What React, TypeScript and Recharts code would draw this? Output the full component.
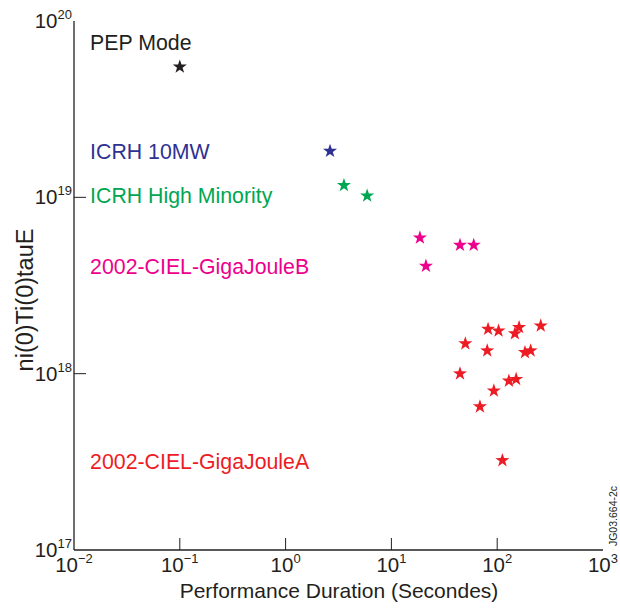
import React from 'react';
import { ScatterChart, Scatter, XAxis, YAxis, ZAxis } from 'recharts';

// Performance duration (s) vs ni(0)Ti(0)tauE
const PEP_X = [0.1];
const PEP_Y = [5.5e19];

const ICRH10_X = [2.63];
const ICRH10_Y = [1.83e19];

const ICRH_HM_X = [3.56, 5.9];
const ICRH_HM_Y = [1.17e19, 1.02e19];

const GJB_X = [18.6, 21.2, 44.5, 60];
const GJB_Y = [5.9e18, 4.08e18, 5.36e18, 5.36e18];

const GJA_X = [82, 103, 161, 147, 258, 50, 80.5, 183, 207, 44.5, 129, 151, 93, 68.7, 112];
const GJA_Y = [
  1.79e18, 1.75e18, 1.83e18, 1.69e18, 1.87e18, 1.48e18, 1.35e18, 1.32e18, 1.35e18,
  1.0e18, 9.1e17, 9.3e17, 8.0e17, 6.5e17, 3.22e17,
];

const X_TICKS = [0.01, 0.1, 1, 10, 100, 1000];
const X_EXP = ['−2', '−1', '0', '1', '2', '3'];
const Y_TICKS = [1e17, 1e18, 1e19, 1e20];
const Y_EXP = ['17', '18', '19', '20'];

// in-plot captions, anchored in data coordinates
const NOTE_TEXT = ['PEP Mode', 'ICRH 10MW', 'ICRH High Minority', '2002-CIEL-GigaJouleB', '2002-CIEL-GigaJouleA'];
const NOTE_X = [0.0142, 0.0142, 0.0142, 0.0142, 0.0142];
const NOTE_Y = [7.5e19, 1.83e19, 1.03e19, 4.07e18, 3.16e17];

const COLORS = ['#231f20', '#2e3192', '#00a651', '#ec008c', '#ed1c24'];

const FONT = '"Liberation Sans", Arial, Helvetica, sans-serif';
const INK = '#231f20';
const TICK_MARGIN_X = 7;
const TICK_MARGIN_Y = 2;

const toPoints = (xs: number[], ys: number[]) => xs.map((x, i) => ({ x, y: ys[i] }));

const SERIES = [
  { name: 'PEP Mode', data: toPoints(PEP_X, PEP_Y), color: COLORS[0] },
  { name: 'ICRH 10MW', data: toPoints(ICRH10_X, ICRH10_Y), color: COLORS[1] },
  { name: 'ICRH High Minority', data: toPoints(ICRH_HM_X, ICRH_HM_Y), color: COLORS[2] },
  { name: '2002-CIEL-GigaJouleB', data: toPoints(GJB_X, GJB_Y), color: COLORS[3] },
  { name: '2002-CIEL-GigaJouleA', data: toPoints(GJA_X, GJA_Y), color: COLORS[4] },
];

const NOTES = NOTE_TEXT.map((text, i) => ({ x: NOTE_X[i], y: NOTE_Y[i], text, color: COLORS[i] }));

function starPath(cx: number, cy: number, outer: number, inner: number): string {
  let d = '';
  for (let i = 0; i < 10; i++) {
    const r = i % 2 === 0 ? outer : inner;
    const a = -Math.PI / 2 + (i * Math.PI) / 5;
    d += `${i === 0 ? 'M' : 'L'}${(cx + r * Math.cos(a)).toFixed(2)},${(cy + r * Math.sin(a)).toFixed(2)}`;
  }
  return d + 'Z';
}

const makeStar = (color: string) => (props: any) => (
  <path d={starPath(props.cx, props.cy, 7.4, 2.9)} fill={color} />
);

const NoteShape = (props: any) => (
  <text x={props.cx} y={props.cy} dy="0.35em" fill={props.payload.color} fontSize={21.3} fontFamily={FONT}>
    {props.payload.text}
  </text>
);

const XTick = (props: any) => {
  const { x, y, payload, index } = props;
  const axisY = y - TICK_MARGIN_X;
  const inner = index > 0 && index < X_TICKS.length - 1;
  return (
    <g>
      {inner && <line x1={x} x2={x} y1={axisY} y2={axisY - 12} stroke={INK} strokeWidth={1} />}
      <text x={x} y={y} dy={15} textAnchor="middle" fill={INK} fontSize={20.5} fontFamily={FONT}>
        10
        <tspan fontSize={13} dy={-9}>{X_EXP[X_TICKS.indexOf(payload.value)]}</tspan>
      </text>
    </g>
  );
};

const YTick = (props: any) => {
  const { x, y, payload, index } = props;
  const axisX = x + TICK_MARGIN_Y;
  const inner = index > 0 && index < Y_TICKS.length - 1;
  return (
    <g>
      {inner && <line x1={axisX} x2={axisX + 12} y1={y} y2={y} stroke={INK} strokeWidth={1} />}
      <text x={x} y={y} dy={7} textAnchor="end" fill={INK} fontSize={20.5} fontFamily={FONT}>
        10
        <tspan fontSize={13} dy={-9}>{Y_EXP[Y_TICKS.indexOf(payload.value)]}</tspan>
      </text>
    </g>
  );
};

export default function App() {
  return (
    <div style={{ position: 'absolute', left: 0, top: 0, width: 620, height: 608, background: '#fff', fontFamily: FONT, color: INK }}>
      <ScatterChart width={620} height={608} margin={{ top: 21, right: 17, bottom: 18, left: 14 }}>
        <XAxis
          xAxisId="b"
          type="number"
          dataKey="x"
          scale="log"
          domain={[0.01, 1000]}
          ticks={X_TICKS}
          allowDataOverflow
          height={40}
          tickSize={0}
          tickMargin={TICK_MARGIN_X}
          tick={<XTick />}
          axisLine={{ stroke: INK, strokeWidth: 1.3 }}
          interval={0}
        />
        <XAxis
          xAxisId="t"
          orientation="top"
          type="number"
          dataKey="x"
          scale="log"
          domain={[0.01, 1000]}
          allowDataOverflow
          height={0}
          tick={false}
          tickLine={false}
          axisLine={{ stroke: '#6d6e71', strokeWidth: 1 }}
        />
        <YAxis
          yAxisId="l"
          type="number"
          dataKey="y"
          scale="log"
          domain={[1e17, 1e20]}
          ticks={Y_TICKS}
          allowDataOverflow
          width={60}
          tickSize={0}
          tickMargin={TICK_MARGIN_Y}
          tick={<YTick />}
          axisLine={{ stroke: INK, strokeWidth: 1.3 }}
          interval={0}
        />
        <YAxis
          yAxisId="r"
          orientation="right"
          type="number"
          dataKey="y"
          scale="log"
          domain={[1e17, 1e20]}
          allowDataOverflow
          width={0}
          tick={false}
          tickLine={false}
          axisLine={{ stroke: '#414042', strokeWidth: 1 }}
        />
        <ZAxis range={[60, 60]} />
        {SERIES.map((s) => (
          <Scatter
            key={s.name}
            name={s.name}
            data={s.data}
            xAxisId="b"
            yAxisId="l"
            shape={makeStar(s.color)}
            isAnimationActive={false}
          />
        ))}
        <Scatter name="notes" data={NOTES} xAxisId="b" yAxisId="l" shape={NoteShape} isAnimationActive={false} />
      </ScatterChart>

      <div
        style={{
          position: 'absolute', left: 26, top: 300, transform: 'translate(-50%, -50%) rotate(-90deg)',
          whiteSpace: 'nowrap', fontSize: 23.5, lineHeight: 1,
        }}
      >
        ni(0)Ti(0)tauE
      </div>
      <div
        style={{
          position: 'absolute', left: 339, top: 590, transform: 'translate(-50%, -50%)',
          whiteSpace: 'nowrap', fontSize: 21, lineHeight: 1,
        }}
      >
        Performance Duration (Secondes)
      </div>
      <div
        style={{
          position: 'absolute', left: 613, top: 516, transform: 'translate(-50%, -50%) rotate(-90deg)',
          whiteSpace: 'nowrap', fontSize: 10.5, lineHeight: 1,
        }}
      >
        JG03.664-2c
      </div>
    </div>
  );
}
